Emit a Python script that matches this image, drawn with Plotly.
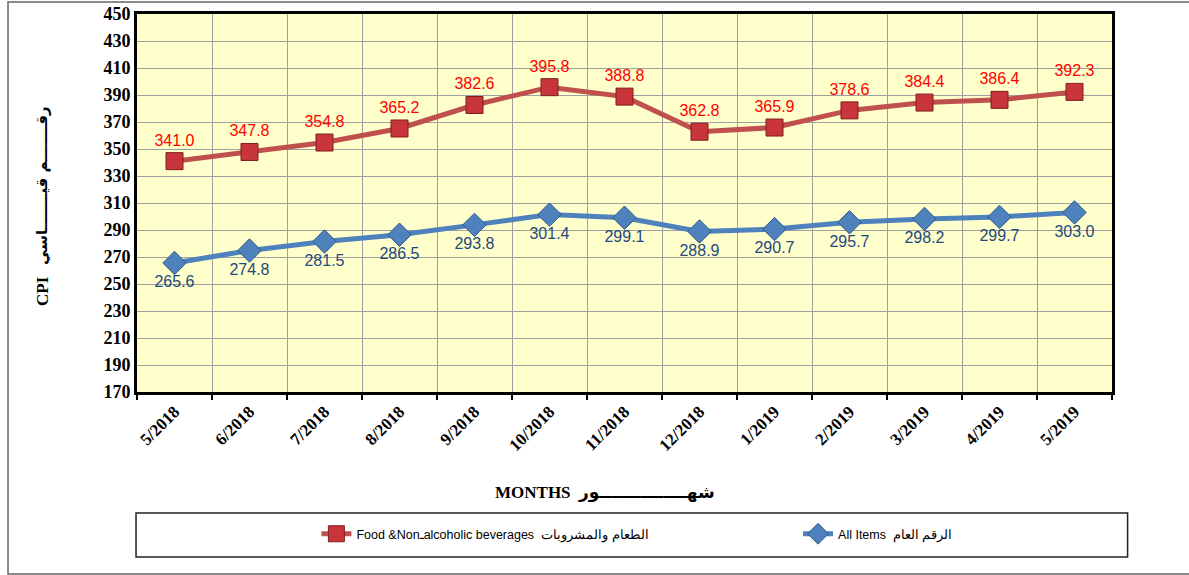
import plotly.graph_objects as go

months = ["5/2018", "6/2018", "7/2018", "8/2018", "9/2018", "10/2018", "11/2018",
          "12/2018", "1/2019", "2/2019", "3/2019", "4/2019", "5/2019"]
food = [341.0, 347.8, 354.8, 365.2, 382.6, 395.8, 388.8, 362.8, 365.9, 378.6, 384.4, 386.4, 392.3]
all_items = [265.6, 274.8, 281.5, 286.5, 293.8, 301.4, 299.1, 288.9, 290.7, 295.7, 298.2, 299.7, 303.0]

food_name = "Food &Nonـalcoholic beverages  الطعام والمشروبات"
all_name = "All Items  الرقم العام"

fig = go.Figure()
fig.add_trace(go.Scatter(
    x=months, y=food, mode="lines+markers+text", name=food_name,
    line=dict(color="#C0504D", width=5),
    marker=dict(symbol="square", size=17, color="#C8353A", line=dict(color="#7F1F1F", width=1)),
    text=[f"{v:.1f}" for v in food], textposition="top center",
    textfont=dict(family="Arial, Liberation Sans", size=16, color="#FF0000"),
    legend="legend", cliponaxis=False,
))
fig.add_trace(go.Scatter(
    x=months, y=all_items, mode="lines+markers+text", name=all_name,
    line=dict(color="#4F81BD", width=5),
    marker=dict(symbol="diamond", size=18, color="#4F81BD", line=dict(color="#2C5A8C", width=1)),
    text=[f"{v:.1f}" for v in all_items], textposition="bottom center",
    textfont=dict(family="Arial, Liberation Sans", size=16, color="#1F497D"),
    legend="legend2", cliponaxis=False,
))

fig.update_layout(
    width=1189, height=575,
    margin=dict(l=137, r=77, t=14, b=183, autoexpand=False),
    paper_bgcolor="white", plot_bgcolor="#FFFFCC",
    showlegend=True,
    legend=dict(x=0.184, y=-0.376, xanchor="left", yanchor="middle", orientation="h",
                font=dict(family="Arial, Liberation Sans", size=12.5, color="black"),
                bgcolor="rgba(0,0,0,0)"),
    legend2=dict(x=0.678, y=-0.376, xanchor="left", yanchor="middle", orientation="h",
                 font=dict(family="Arial, Liberation Sans", size=12.5, color="black"),
                 bgcolor="rgba(0,0,0,0)"),
    xaxis=dict(
        type="category", tickson="boundaries", range=[-0.5, 12.5],
        showgrid=True, gridcolor="#A0A0A0", gridwidth=1,
        showline=True, linecolor="black", linewidth=3, mirror=True,
        ticks="outside", ticklen=5, tickwidth=2, tickcolor="black",
        tickangle=-45, automargin=False,
        tickfont=dict(family="Liberation Serif, Times New Roman", size=17, color="black", weight="bold"),
    ),
    yaxis=dict(
        range=[170, 450], dtick=20, tick0=170,
        showgrid=True, gridcolor="#A0A0A0", gridwidth=1,
        showline=True, linecolor="black", linewidth=3, mirror=True,
        ticks="", zeroline=False, automargin=False, ticklabeloverflow="allow",
        tickfont=dict(family="Liberation Serif, Times New Roman", size=18, color="black", weight="bold"),
    ),
    font=dict(family="Liberation Serif", color="black"),
)

# axis titles
fig.add_annotation(
    text="MONTHS  <span style='font-family:DejaVu Sans'>شهـــــــــــــــور</span>",
    x=0.48, y=-0.265, xref="paper", yref="paper", xanchor="center", yanchor="middle",
    showarrow=False, font=dict(family="Liberation Serif, Times New Roman", size=17, color="black", weight="bold"),
)
fig.add_annotation(
    text="CPI", x=-0.0974, y=(392 - 291) / 378, xref="paper", yref="paper",
    xanchor="center", yanchor="middle",
    textangle=-90, showarrow=False,
    font=dict(family="Liberation Serif, Times New Roman", size=17, color="black", weight="bold"),
)
fig.add_annotation(
    text="رقـــــــم قيـــــــاسي", x=-0.0974, y=(392 - 186) / 378, xref="paper", yref="paper",
    xanchor="center", yanchor="middle",
    textangle=-90, showarrow=False,
    font=dict(family="DejaVu Sans", size=15, color="black", weight="bold"),
)

# legend box
fig.add_shape(type="rect", xref="paper", yref="paper", x0=-0.001, x1=1.016, y0=-0.4365, y1=-0.320,
              line=dict(color="#222222", width=1.5), fillcolor="rgba(0,0,0,0)")
# outer border
fig.add_shape(type="rect", xref="paper", yref="paper", x0=-0.1323, x1=1.2, y0=-0.4815, y1=1.0317,
              line=dict(color="#666666", width=1.5), fillcolor="rgba(0,0,0,0)")

fig.write_html("out.html", config={"displayModeBar": False},
               post_script="document.body.style.margin='0';document.body.style.overflow='hidden';")
